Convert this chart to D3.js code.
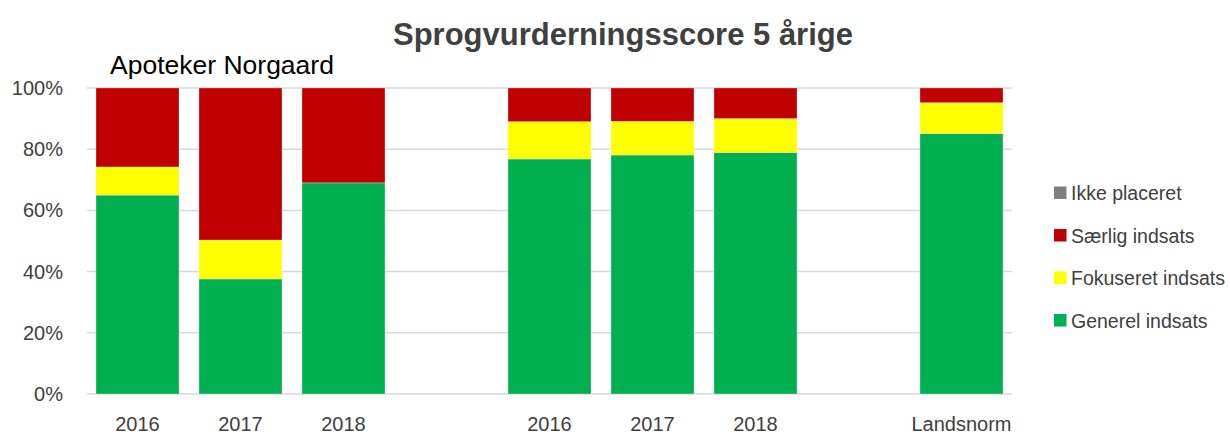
<html lang="da">
<head>
<meta charset="UTF-8">
<title>Sprogvurderningsscore 5 årige</title>
<script src="https://d3js.org/d3.v7.min.js"></script>
<style>
  body { margin: 0; background: #fff; }
  text { font-family: "Liberation Sans", Arial, sans-serif; }
</style>
</head>
<body>
<div id="chart"></div>
<script>
// categories (blank slots are the gaps between groups)
const labels = ["2016", "2017", "2018", "", "2016", "2017", "2018", "", "Landsnorm"];
const seriesNames = ["Generel indsats", "Fokuseret indsats", "Særlig indsats", "Ikke placeret"];
const generel   = [65.0, 37.6, 69.0, 0, 76.8, 78.1, 78.9, 0, 85.1];
const fokuseret = [9.2, 12.7, 0.0, 0, 12.2, 11.0, 11.1, 0, 10.1];
const saerlig   = [25.8, 49.7, 31.0, 0, 11.0, 10.9, 10.0, 0, 4.8];
const ikke      = [0, 0, 0, 0, 0, 0, 0, 0, 0];
const yTicks = [0, 20, 40, 60, 80, 100];
const colors = ["#00b050", "#ffff00", "#c00000", "#808080"];

const W = 1230, H = 435;
const svg = d3.select("#chart").append("svg")
    .attr("width", W).attr("height", H);

const x = d3.scaleBand()
    .domain(d3.range(labels.length))
    .range([86, 1013])
    .paddingInner(0.194)
    .paddingOuter(0.097);

const y = d3.scaleLinear().domain([0, 100]).range([394, 88]);

// gridlines
svg.append("g").selectAll("line")
    .data(yTicks)
    .enter().append("line")
    .attr("x1", 87).attr("x2", 1012)
    .attr("y1", d => y(d)).attr("y2", d => y(d))
    .attr("stroke", "#d9d9d9").attr("stroke-width", 1.5);

// y axis labels
svg.append("g").selectAll("text")
    .data(yTicks)
    .enter().append("text")
    .attr("x", 63).attr("y", d => y(d) + 7)
    .attr("text-anchor", "end")
    .attr("font-size", 20).attr("fill", "#404040")
    .text(d => d + "%");

// stack the series
const rows = labels.map((l, i) => ({ i: i, g: generel[i], f: fokuseret[i], s: saerlig[i], k: ikke[i] }));
const stack = d3.stack().keys(["g", "f", "s", "k"]);
const layers = stack(rows);

svg.append("g").selectAll("g")
    .data(layers)
    .enter().append("g")
    .attr("fill", (d, i) => colors[i])
    .selectAll("rect")
    .data(d => d)
    .enter().append("rect")
    .filter(d => d[1] - d[0] > 0)
    .attr("x", d => x(d.data.i))
    .attr("width", x.bandwidth())
    .attr("y", d => y(d[1]))
    .attr("height", d => y(d[0]) - y(d[1]))
    .attr("stroke", "#ffffff").attr("stroke-opacity", 0.4).attr("stroke-width", 0.75);

// x labels
svg.append("g").selectAll("text")
    .data(labels)
    .enter().append("text")
    .attr("x", (d, i) => x(i) + x.bandwidth() / 2)
    .attr("y", 431)
    .attr("text-anchor", "middle")
    .attr("font-size", 20).attr("fill", "#404040")
    .text(d => d);

// title
svg.append("text")
    .attr("x", 623).attr("y", 45)
    .attr("text-anchor", "middle")
    .attr("font-size", 31).attr("font-weight", "bold").attr("fill", "#404040")
    .text("Sprogvurderningsscore 5 årige");

svg.append("text")
    .attr("x", 110).attr("y", 74)
    .attr("font-size", 26.5).attr("fill", "#000")
    .text("Apoteker Norgaard");

// legend (top entry first, like the stack order reversed)
const legendOrder = [3, 2, 1, 0];
const legend = svg.append("g").selectAll("g")
    .data(legendOrder)
    .enter().append("g")
    .attr("transform", (d, i) => "translate(1054," + (193 + i * 42.5) + ")");
legend.append("rect")
    .attr("x", 0).attr("y", -6.5)
    .attr("width", 12.5).attr("height", 12.5)
    .attr("fill", d => colors[d]);
legend.append("text")
    .attr("x", 17).attr("y", 7)
    .attr("font-size", 19.5).attr("fill", "#404040")
    .text(d => seriesNames[d]);
</script>
</body>
</html>
